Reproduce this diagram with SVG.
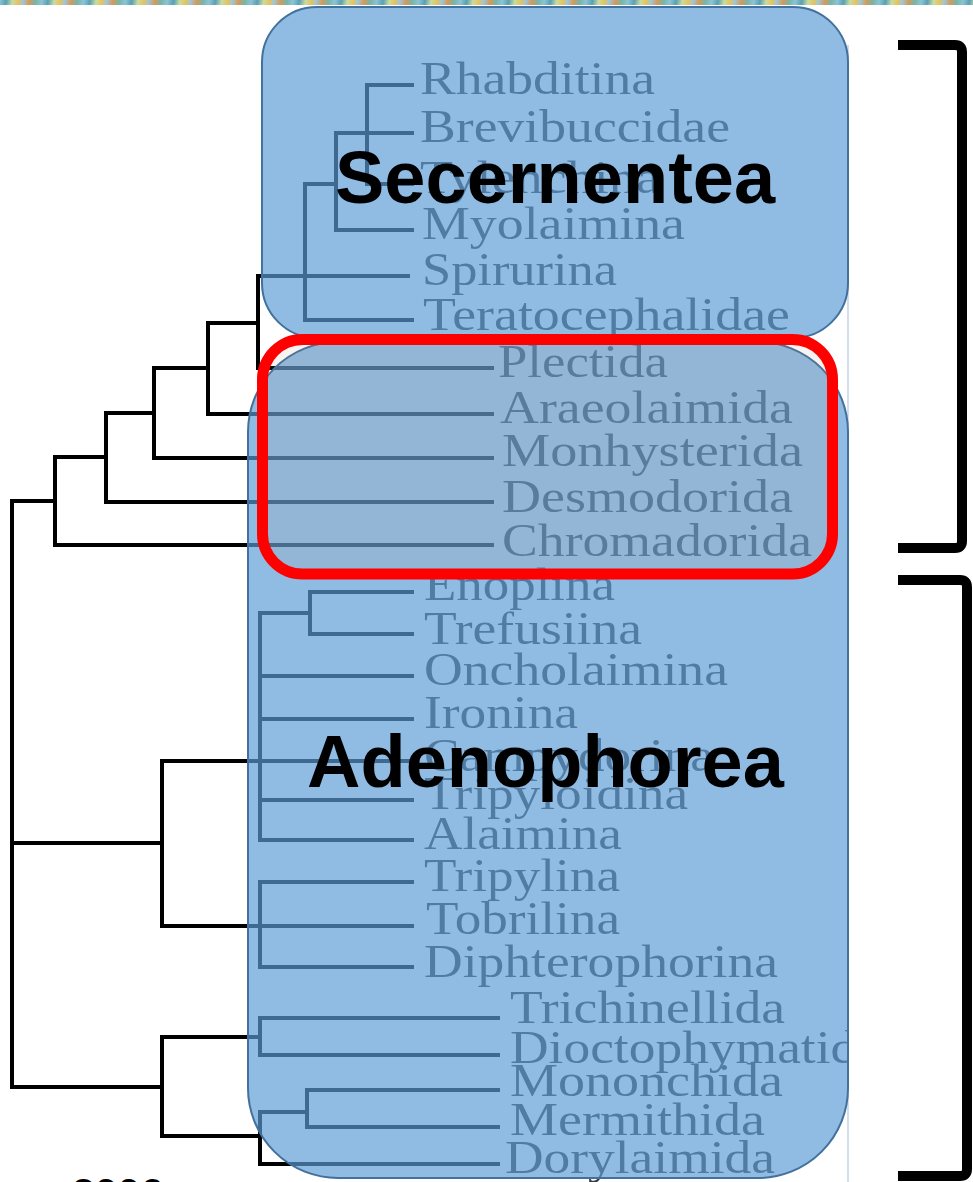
<svg xmlns="http://www.w3.org/2000/svg" width="973" height="1182" viewBox="0 0 973 1182">
<style>
.tree{fill:none;stroke:#000;stroke-width:4;stroke-linecap:square}
.lbl{font-family:"Liberation Serif","Times New Roman",serif;font-size:47px;fill:#3a3a3a}
.box{fill:#5B9BD5;fill-opacity:0.68;stroke:#41719c;stroke-width:2}
.title{font-family:"Liberation Sans",Arial,sans-serif;font-weight:bold;font-size:74px;fill:#000}
.brk{fill:none;stroke:#000;stroke-width:10}
</style>
<defs>
<linearGradient id="strip" gradientUnits="userSpaceOnUse" x1="0" y1="0" x2="41" y2="6" spreadMethod="repeat">
<stop offset="0" stop-color="#8cc4d4"/>
<stop offset="0.15" stop-color="#5aa0b4"/>
<stop offset="0.3" stop-color="#c8dca0"/>
<stop offset="0.45" stop-color="#e6c25c"/>
<stop offset="0.55" stop-color="#9cc8dc"/>
<stop offset="0.7" stop-color="#d49a58"/>
<stop offset="0.85" stop-color="#78b4a8"/>
<stop offset="1" stop-color="#8cc4d4"/>
</linearGradient>
<clipPath id="clipTree"><rect x="0" y="0" width="848" height="1182"/></clipPath>
</defs>
<rect x="0" y="0" width="973" height="1182" fill="#fff"/>
<rect x="0" y="0" width="973" height="5" fill="url(#strip)"/>
<line x1="848" y1="45" x2="848" y2="1182" stroke="#d3deec" stroke-width="2"/>

<g id="connectors" class="tree" clip-path="url(#clipTree)">
<path d="M367,85 H412 M367,85 V184 M367,184 H412 M336,133 H412 M336,133 V230 M336,230 H412 M305,184 H336 M305,184 V320 M305,320 H412 M258,276 H408 M258,276 V368 M258,368 H492"/>
<path d="M208,323 H258 M208,323 V414 M208,414 H492 M154,368 H208 M154,368 V458 M154,458 H492 M106,413 H154 M106,413 V502 M106,502 H492 M55,457 H106 M55,457 V545 M55,545 H492 M12,501 H55 M12,501 V1087"/>
<path d="M12,843 H162 M162,761 V926 M162,761 H412 M162,926 H412 M260,613 V840 M260,613 H310 M310,592 V634 M310,592 H412 M310,634 H412 M260,676 H412 M260,719 H412 M260,800 H412 M260,840 H412 M260,882 V967 M260,882 H412 M260,967 H412"/>
<path d="M12,1087 H162 M162,1037 V1136 M162,1037 H260 M260,1018 V1055 M260,1018 H498 M260,1055 H498 M162,1136 H260 M260,1112 V1164 M260,1112 H307 M307,1090 V1127 M307,1090 H498 M307,1127 H498 M260,1164 H498"/>
</g>

<g id="labels" clip-path="url(#clipTree)">
<text class="lbl" x="420" y="94" textLength="235" lengthAdjust="spacingAndGlyphs">Rhabditina</text>
<text class="lbl" x="420" y="142" textLength="310" lengthAdjust="spacingAndGlyphs">Brevibuccidae</text>
<text class="lbl" x="420" y="193" textLength="240" lengthAdjust="spacingAndGlyphs">Tylenchina</text>
<text class="lbl" x="422" y="239" textLength="263" lengthAdjust="spacingAndGlyphs">Myolaimina</text>
<text class="lbl" x="422" y="285" textLength="195" lengthAdjust="spacingAndGlyphs">Spirurina</text>
<text class="lbl" x="423" y="330" textLength="367" lengthAdjust="spacingAndGlyphs">Teratocephalidae</text>
<text class="lbl" x="498" y="377" textLength="170" lengthAdjust="spacingAndGlyphs">Plectida</text>
<text class="lbl" x="500" y="423" textLength="293" lengthAdjust="spacingAndGlyphs">Araeolaimida</text>
<text class="lbl" x="502" y="466" textLength="301" lengthAdjust="spacingAndGlyphs">Monhysterida</text>
<text class="lbl" x="502" y="512" textLength="291" lengthAdjust="spacingAndGlyphs">Desmodorida</text>
<text class="lbl" x="502" y="556" textLength="310" lengthAdjust="spacingAndGlyphs">Chromadorida</text>
<text class="lbl" x="424" y="600" textLength="191" lengthAdjust="spacingAndGlyphs">Enoplina</text>
<text class="lbl" x="424" y="644" textLength="218" lengthAdjust="spacingAndGlyphs">Trefusiina</text>
<text class="lbl" x="424" y="685" textLength="304" lengthAdjust="spacingAndGlyphs">Oncholaimina</text>
<text class="lbl" x="424" y="728" textLength="154" lengthAdjust="spacingAndGlyphs">Ironina</text>
<text class="lbl" x="424" y="771" textLength="290" lengthAdjust="spacingAndGlyphs">Campydorina</text>
<text class="lbl" x="424" y="809" textLength="264" lengthAdjust="spacingAndGlyphs">Tripyloidina</text>
<text class="lbl" x="424" y="849" textLength="198" lengthAdjust="spacingAndGlyphs">Alaimina</text>
<text class="lbl" x="424" y="891" textLength="196" lengthAdjust="spacingAndGlyphs">Tripylina</text>
<text class="lbl" x="426" y="934" textLength="194" lengthAdjust="spacingAndGlyphs">Tobrilina</text>
<text class="lbl" x="424" y="977" textLength="354" lengthAdjust="spacingAndGlyphs">Diphterophorina</text>
<text class="lbl" x="510" y="1023" textLength="275" lengthAdjust="spacingAndGlyphs">Trichinellida</text>
<text class="lbl" x="510" y="1063" textLength="371" lengthAdjust="spacingAndGlyphs">Dioctophymatida</text>
<text class="lbl" x="510" y="1096" textLength="273" lengthAdjust="spacingAndGlyphs">Mononchida</text>
<text class="lbl" x="510" y="1135" textLength="255" lengthAdjust="spacingAndGlyphs">Mermithida</text>
<text class="lbl" x="505" y="1173" textLength="270" lengthAdjust="spacingAndGlyphs">Dorylaimida</text>
</g>

<g id="secernentea">
<rect class="box" x="262" y="7" width="586" height="331" rx="55" ry="55"/>
</g>
<g id="adenophorea">
<rect class="box" x="248" y="342" width="600" height="836" rx="90" ry="90"/>
</g>
<g id="highlight">
<rect x="262.5" y="339.5" width="570" height="234.5" rx="40" ry="40" fill="#b08a70" fill-opacity="0.1" stroke="#ff0000" stroke-width="11"/>
</g>
<g id="titles">
<text class="title" x="335" y="203">Secernentea</text>
<text class="title" x="307" y="787">Adenophorea</text>
</g>
<g id="brackets">
<path class="brk" d="M898,45 H955 Q962,45 962,52 V541 Q962,548 955,548 H898"/>
<path class="brk" d="M898,580 H960 Q967,580 967,587 V1169 Q967,1176 960,1176 H898"/>
</g>
<text x="72" y="1207" font-family="Liberation Sans, Arial, sans-serif" font-weight="bold" font-size="41" fill="#000">2006</text>
</svg>
